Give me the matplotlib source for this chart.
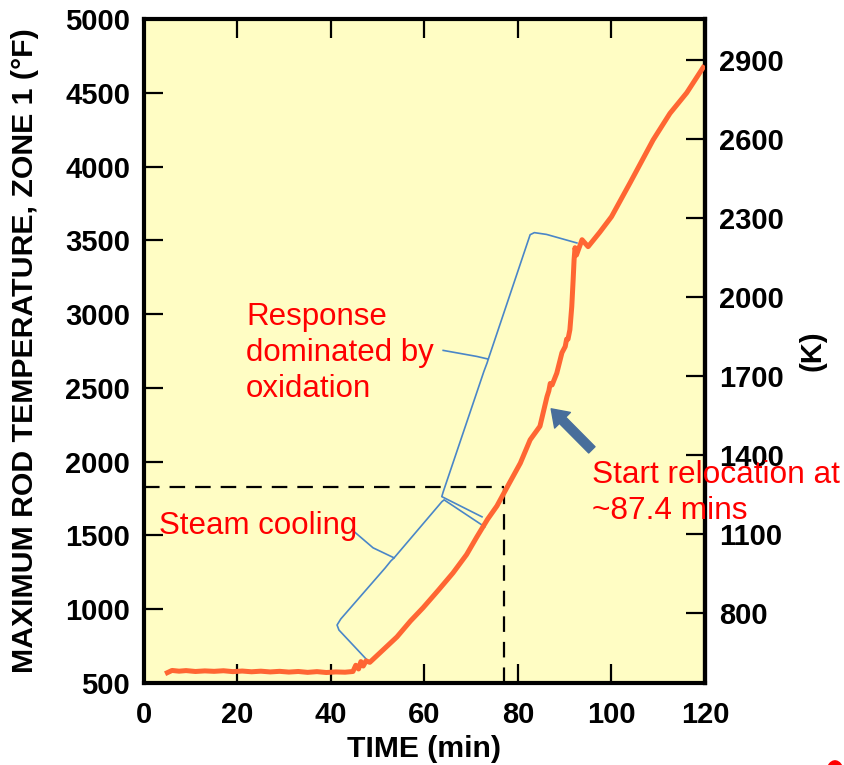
import numpy as np
import matplotlib.pyplot as plt
from matplotlib.patches import Ellipse

plt.rcParams['font.family'] = ['Liberation Sans', 'DejaVu Sans']

# maximum rod temperature in zone 1 (deg F) vs time (min)
time_min = [5, 6, 7.5, 9, 11, 13, 15, 17, 19, 21, 23, 25, 27, 29, 31, 33, 35, 37, 39, 41, 43, 44.7,
            45.3, 45.9, 46.4, 46.9, 47.5, 48.3, 51, 54.1, 57, 59.7, 63, 66.1, 69, 71.2, 73.5, 75.5,
            77.9, 80.5, 82.6, 84.7, 86.2, 86.6, 86.9, 87.3, 88.3, 89.4, 90.1, 90.4, 90.7, 91.1,
            91.5, 91.8, 92.0, 92.2, 92.5, 93.7, 95.0, 97.5, 100, 104, 108.9, 112.5, 116.1, 119.6]
temp_F = [570, 585, 580, 584, 578, 582, 579, 583, 577, 581, 576, 580, 575, 579, 574, 578, 572, 577, 571, 575, 573, 578,
          620, 595, 645, 615, 650, 640, 720, 812, 920, 1010, 1130, 1246, 1370, 1490, 1610, 1700,
          1840, 1990, 2148, 2240, 2440, 2480, 2530, 2520, 2600, 2738, 2780, 2830, 2830, 2894,
          3050, 3233, 3369, 3450, 3400, 3504, 3457, 3555, 3660, 3891, 4180, 4360, 4500, 4671]

# reference point for the dashed guide lines
guide_t = 77.0
guide_F = 1829

# brace for the steam cooling phase
steam_lo_t = [48.3, 41.7, 41.3, 42.1, 51.6, 52.8, 53.5, 49.0, 44.5]
steam_lo_F = [636, 859, 893, 934, 1280, 1327, 1348, 1416, 1538]
steam_hi_t = [53.5, 63.7, 64.2, 72.9]
steam_hi_F = [1348, 1728, 1741, 1558]

# brace for the oxidation phase
oxid_lo_t = [72.3, 63.7, 64.0, 72.7, 73.4, 73.65, 71.2, 64.0]
oxid_lo_F = [1626, 1763, 1795, 2611, 2670, 2695, 2713, 2754]
oxid_hi_t = [73.65, 82.6, 83.5, 86.1, 92.6]
oxid_hi_F = [2695, 3538, 3552, 3540, 3482]

x_ticks = [0, 20, 40, 60, 80, 100, 120]
f_ticks = [500, 1000, 1500, 2000, 2500, 3000, 3500, 4000, 4500, 5000]
k_ticks = [800, 1100, 1400, 1700, 2000, 2300, 2600, 2900]

# kelvin scale as laid out on the right axis: 800 K at 971 F, 1.786 F per K
k_ref, f_ref, f_per_k = 800.0, 971.0, 1.786


def f_to_k(f):
    return k_ref + (np.asarray(f) - f_ref) / f_per_k


def k_to_f(k):
    return f_ref + (np.asarray(k) - k_ref) * f_per_k


fig = plt.figure(figsize=(8.44, 7.65), dpi=100)
ax = fig.add_axes([0.1706, 0.1072, 0.6647, 0.868])
ax.set_facecolor('#fffdc4')

ax.plot(time_min, temp_F, color='#ff6633', lw=3.6, solid_joinstyle='round', zorder=4)

# dashed guides
ax.plot([0, guide_t], [guide_F, guide_F], color='black', lw=1.6, dashes=(7, 4.5), zorder=2)
ax.plot([guide_t, guide_t], [500, guide_F], color='black', lw=1.6, dashes=(7, 4.5), zorder=2)

brace_col = '#4a86c8'
for bt, bf in [(steam_lo_t, steam_lo_F), (steam_hi_t, steam_hi_F),
               (oxid_lo_t, oxid_lo_F), (oxid_hi_t, oxid_hi_F)]:
    ax.plot(bt, bf, color=brace_col, lw=1.2, zorder=3)

red = '#ff0000'
ax.text(21.8, 3085, 'Response\ndominated by\noxidation', color=red, fontsize=22.5,
        ha='left', va='top', linespacing=1.27)
ax.text(3.2, 1510, 'Steam cooling', color=red, fontsize=22.5, ha='left', va='baseline')
ax.text(95.8, 2010, 'Start relocation at\n~87.4 mins', color=red, fontsize=22.8,
        ha='left', va='top', linespacing=1.27, zorder=6)

ax.annotate('', xy=(87.1, 2358), xytext=(95.8, 2080),
            arrowprops=dict(arrowstyle='simple,head_length=0.58,head_width=0.8,tail_width=0.32',
                            mutation_scale=20, color='#486e9b', shrinkA=0, shrinkB=0),
            zorder=5)

ax.set_xlim(0, 120)
ax.set_ylim(500, 5000)
ax.set_xticks(x_ticks)
ax.set_yticks(f_ticks)

for side in ['left', 'right', 'top', 'bottom']:
    ax.spines[side].set_linewidth(3)

ax.tick_params(axis='both', direction='in', length=14, width=1.6, labelsize=21, pad=10)
ax.tick_params(axis='x', top=True, pad=13)
ax.tick_params(axis='y', right=False)
for lab in ax.get_xticklabels() + ax.get_yticklabels():
    lab.set_fontweight('bold')

sec = ax.secondary_yaxis('right', functions=(f_to_k, k_to_f))
sec.set_yticks(k_ticks)
sec.spines['right'].set_linewidth(3)
sec.tick_params(direction='in', length=14, width=1.6, labelsize=21, pad=10)
for lab in sec.get_yticklabels():
    lab.set_fontweight('bold')

ax.text(1.1925, 0.5, '(K)', transform=ax.transAxes, fontsize=21, fontweight='bold',
        rotation=90, ha='center', va='center')

ax.set_xlabel('TIME (min)', fontsize=21.7, fontweight='bold', va='center')
ax.xaxis.set_label_coords(0.5, -0.099)
ax.set_ylabel('MAXIMUM ROD TEMPERATURE, ZONE 1 (°F)', fontsize=21.8, fontweight='bold', va='center')
ax.yaxis.set_label_coords(-0.212, 0.5)

# small red mark at the lower right corner
fig.add_artist(Ellipse((835 / 844, -0.009), 16 / 844, 22 / 765, color=red, transform=fig.transFigure))

fig.savefig('out.png', dpi=100)
